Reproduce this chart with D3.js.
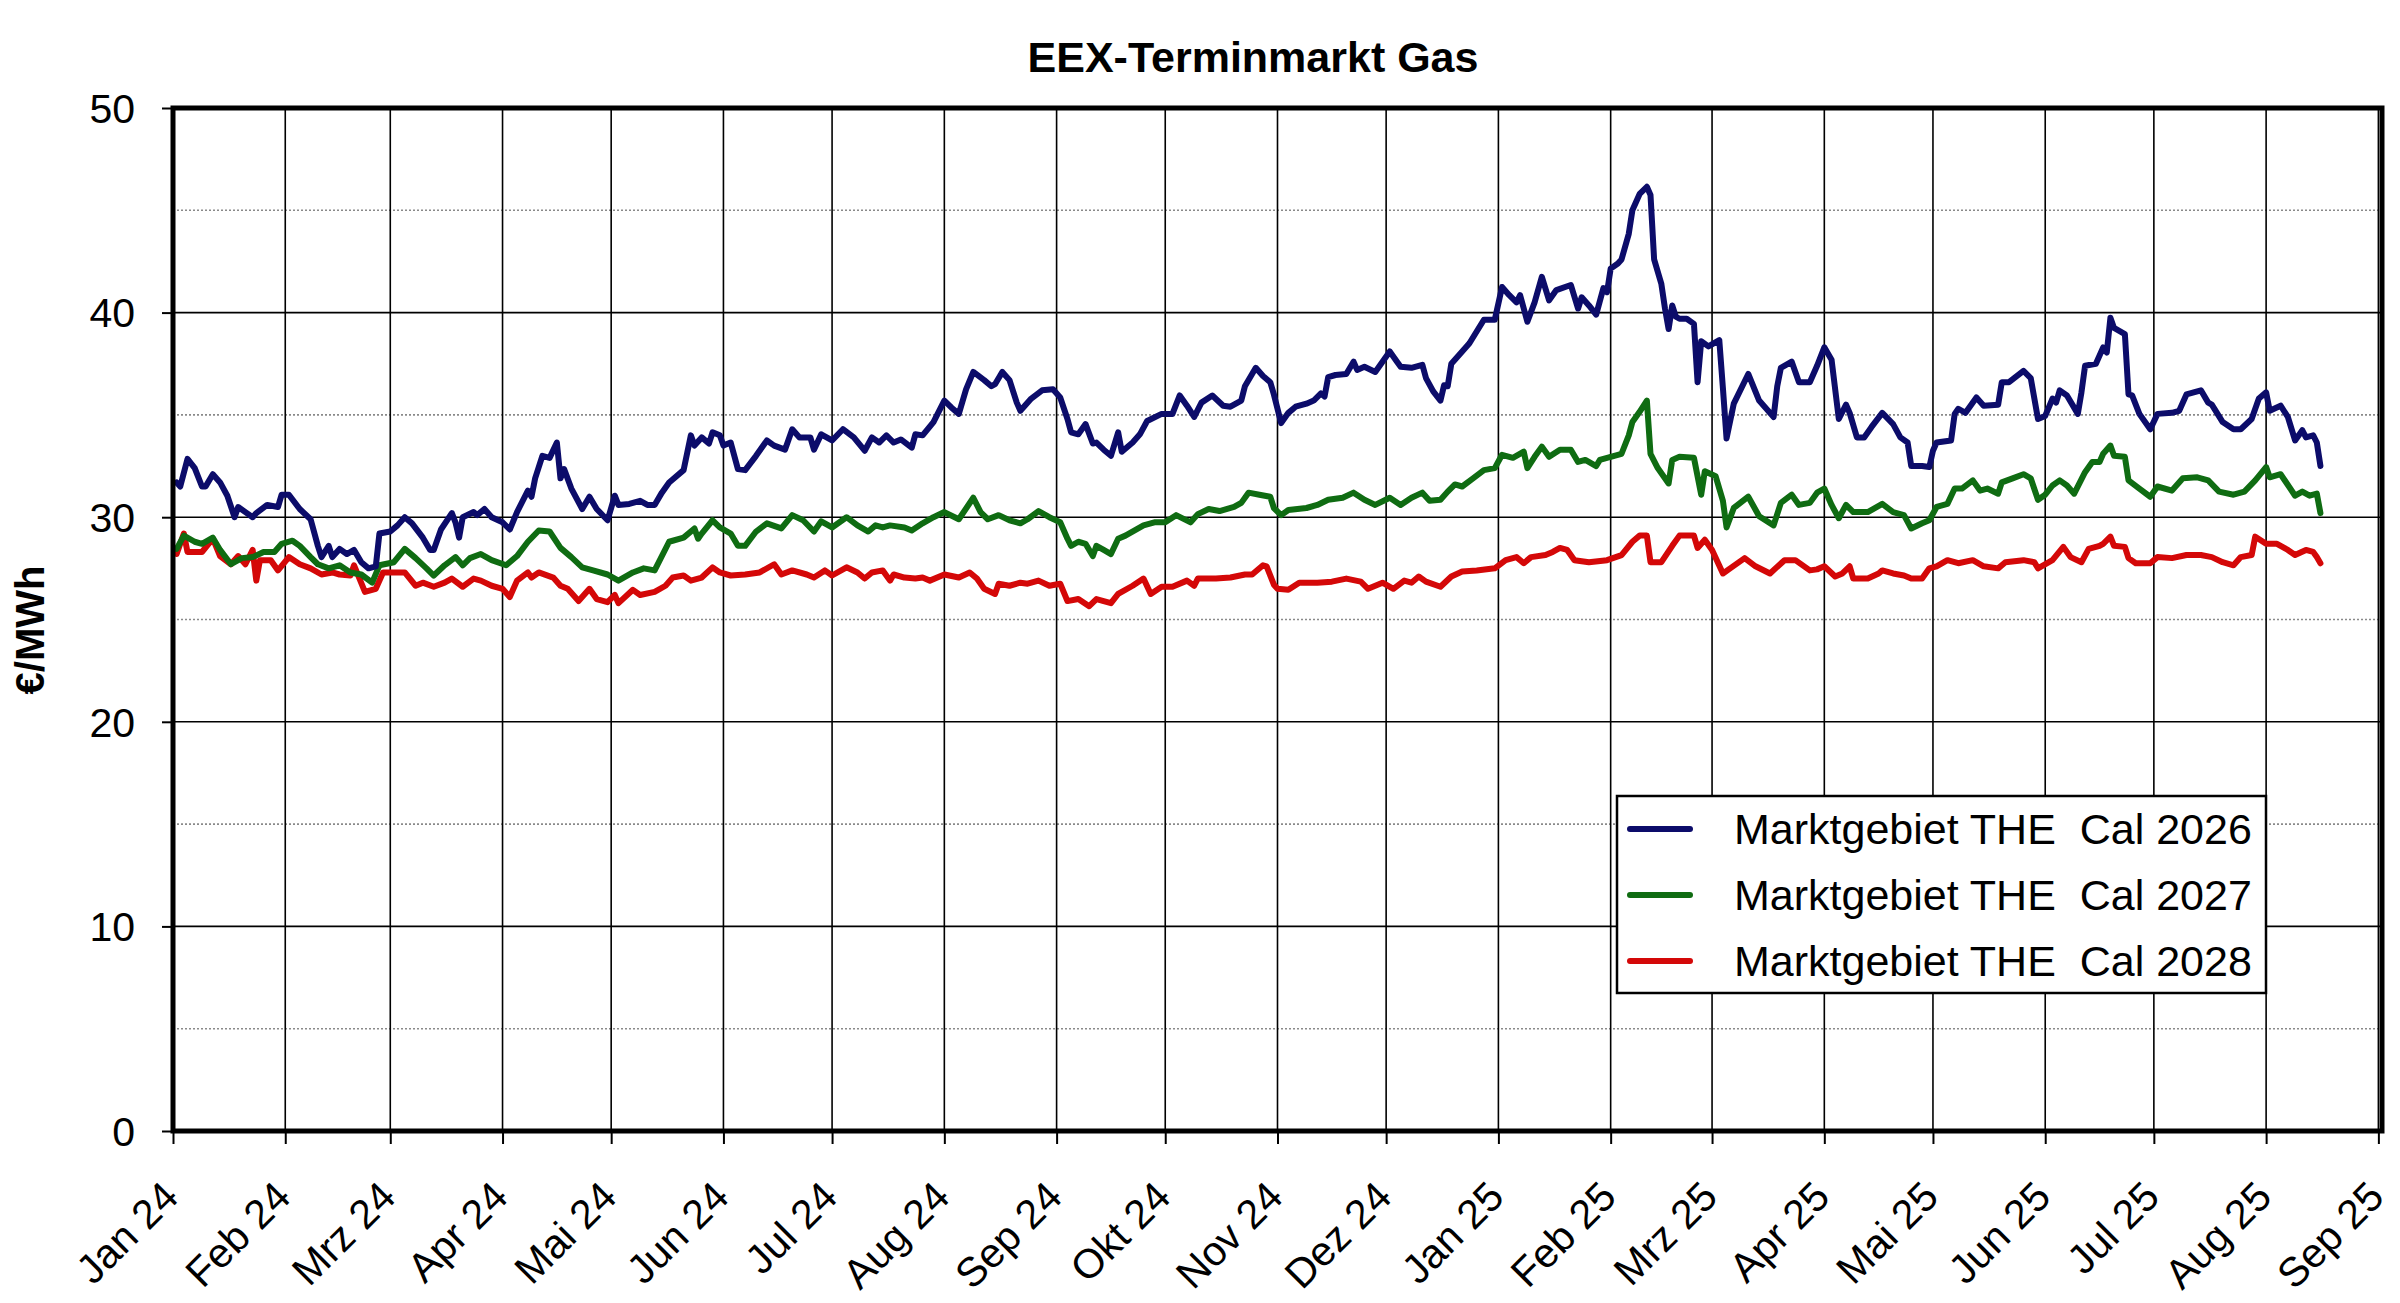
<!DOCTYPE html>
<html>
<head>
<meta charset="utf-8">
<script src="https://cdn.jsdelivr.net/npm/d3@7/dist/d3.min.js"></script>
<style>
  html, body { margin: 0; padding: 0; background: #ffffff; }
  svg { display: block; }
  text { font-family: "Liberation Sans", Arial, sans-serif; fill: #000; }
</style>
</head>
<body>
<svg id="chart" width="2400" height="1303"></svg>
<script>
// ---------------- DATA ----------------
const chartTitle = "EEX-Terminmarkt Gas";
const yAxisLabel = "€/MWh";
const monthNames = ["Jan","Feb","Mrz","Apr","Mai","Jun","Jul","Aug","Sep","Okt","Nov","Dez"];
const yTicks = [0, 10, 20, 30, 40, 50];
const yMinor = [5, 15, 25, 35, 45];
const xStart = "2024-01-01";
const xEnd = "2025-09-02";
const seriesNames = ["Marktgebiet THE  Cal 2026", "Marktgebiet THE  Cal 2027", "Marktgebiet THE  Cal 2028"];

const cal2026 = [
["2024-01-02",31.7],["2024-01-03",31.5],["2024-01-05",32.85],["2024-01-07",32.4],["2024-01-09",31.5],["2024-01-10",31.5],
["2024-01-12",32.1],["2024-01-14",31.7],["2024-01-16",31.05],["2024-01-18",30.0],["2024-01-19",30.5],["2024-01-21",30.25],
["2024-01-23",30.0],["2024-01-24",30.2],["2024-01-27",30.6],["2024-01-30",30.5],["2024-01-31",31.1],["2024-02-02",31.1],
["2024-02-05",30.4],["2024-02-08",29.9],["2024-02-10",28.6],["2024-02-11",28.05],["2024-02-13",28.6],["2024-02-14",28.05],
["2024-02-16",28.45],["2024-02-18",28.2],["2024-02-20",28.4],["2024-02-22",27.8],["2024-02-24",27.5],["2024-02-26",27.6],
["2024-02-27",29.2],["2024-03-01",29.3],["2024-03-03",29.6],["2024-03-05",30.0],["2024-03-07",29.7],["2024-03-10",29.0],
["2024-03-12",28.4],["2024-03-13",28.4],["2024-03-15",29.4],["2024-03-18",30.2],["2024-03-19",29.75],["2024-03-20",29.0],
["2024-03-21",30.0],["2024-03-24",30.25],["2024-03-25",30.1],["2024-03-27",30.4],["2024-03-29",30.0],["2024-04-01",29.75],
["2024-04-03",29.4],["2024-04-05",30.25],["2024-04-08",31.3],["2024-04-09",31.0],["2024-04-10",31.9],["2024-04-12",33.0],
["2024-04-14",32.9],["2024-04-16",33.65],["2024-04-17",31.9],["2024-04-18",32.35],["2024-04-20",31.4],["2024-04-23",30.4],
["2024-04-25",31.0],["2024-04-27",30.4],["2024-04-30",29.85],["2024-05-02",31.05],["2024-05-03",30.6],["2024-05-06",30.65],
["2024-05-09",30.8],["2024-05-11",30.6],["2024-05-13",30.6],["2024-05-15",31.2],["2024-05-17",31.7],["2024-05-21",32.3],
["2024-05-23",34.0],["2024-05-24",33.5],["2024-05-26",33.9],["2024-05-28",33.6],["2024-05-29",34.15],["2024-05-31",34.0],
["2024-06-01",33.5],["2024-06-03",33.65],["2024-06-05",32.35],["2024-06-07",32.3],["2024-06-10",33.0],["2024-06-13",33.75],
["2024-06-15",33.5],["2024-06-18",33.3],["2024-06-20",34.3],["2024-06-22",33.9],["2024-06-25",33.9],["2024-06-26",33.3],
["2024-06-28",34.05],["2024-07-01",33.75],["2024-07-04",34.3],["2024-07-07",33.9],["2024-07-10",33.25],["2024-07-12",33.9],
["2024-07-14",33.65],["2024-07-16",34.0],["2024-07-18",33.65],["2024-07-20",33.8],["2024-07-23",33.4],["2024-07-24",34.05],
["2024-07-26",34.0],["2024-07-29",34.65],["2024-08-01",35.7],["2024-08-03",35.35],["2024-08-05",35.05],["2024-08-07",36.25],
["2024-08-09",37.1],["2024-08-12",36.7],["2024-08-14",36.4],["2024-08-15",36.5],["2024-08-17",37.1],["2024-08-19",36.7],
["2024-08-21",35.6],["2024-08-22",35.2],["2024-08-25",35.8],["2024-08-28",36.2],["2024-08-31",36.25],["2024-09-02",35.85],
["2024-09-04",34.8],["2024-09-05",34.15],["2024-09-07",34.05],["2024-09-09",34.55],["2024-09-11",33.6],["2024-09-12",33.65],
["2024-09-14",33.3],["2024-09-16",33.0],["2024-09-18",34.15],["2024-09-19",33.2],["2024-09-22",33.65],["2024-09-24",34.05],
["2024-09-26",34.7],["2024-09-30",35.05],["2024-10-03",35.05],["2024-10-05",35.95],["2024-10-07",35.45],["2024-10-09",34.9],
["2024-10-11",35.6],["2024-10-14",35.95],["2024-10-17",35.45],["2024-10-19",35.4],["2024-10-22",35.7],["2024-10-23",36.4],
["2024-10-26",37.3],["2024-10-28",36.9],["2024-10-30",36.6],["2024-10-31",36.0],["2024-11-02",34.6],["2024-11-04",35.1],
["2024-11-06",35.4],["2024-11-09",35.55],["2024-11-11",35.7],["2024-11-13",36.05],["2024-11-14",35.9],["2024-11-15",36.85],
["2024-11-17",36.95],["2024-11-20",37.0],["2024-11-22",37.6],["2024-11-23",37.2],["2024-11-25",37.35],["2024-11-28",37.1],
["2024-11-30",37.6],["2024-12-02",38.1],["2024-12-04",37.6],["2024-12-05",37.35],["2024-12-08",37.3],["2024-12-11",37.45],
["2024-12-12",36.8],["2024-12-14",36.15],["2024-12-16",35.7],["2024-12-17",36.45],["2024-12-18",36.4],["2024-12-19",37.5],
["2024-12-22",38.1],["2024-12-24",38.5],["2024-12-28",39.65],["2024-12-31",39.65],["2025-01-02",41.25],["2025-01-04",40.85],
["2025-01-06",40.5],["2025-01-07",40.85],["2025-01-09",39.55],["2025-01-11",40.5],["2025-01-13",41.75],["2025-01-15",40.6],
["2025-01-17",41.1],["2025-01-21",41.35],["2025-01-23",40.2],["2025-01-24",40.75],["2025-01-26",40.35],["2025-01-28",39.9],
["2025-01-30",41.2],["2025-01-31",41.0],["2025-02-01",42.15],["2025-02-03",42.4],["2025-02-04",42.6],["2025-02-06",43.85],
["2025-02-07",45.0],["2025-02-09",45.8],["2025-02-11",46.15],["2025-02-12",45.75],["2025-02-13",42.6],["2025-02-15",41.4],
["2025-02-16",40.2],["2025-02-17",39.2],["2025-02-18",40.35],["2025-02-19",39.8],["2025-02-20",39.7],["2025-02-22",39.7],
["2025-02-24",39.45],["2025-02-25",36.6],["2025-02-26",38.6],["2025-02-28",38.35],["2025-03-03",38.65],["2025-03-04",36.3],
["2025-03-05",33.85],["2025-03-07",35.55],["2025-03-11",37.0],["2025-03-14",35.7],["2025-03-18",34.9],["2025-03-19",36.4],
["2025-03-20",37.3],["2025-03-23",37.6],["2025-03-25",36.6],["2025-03-28",36.6],["2025-03-30",37.4],["2025-04-01",38.3],
["2025-04-03",37.7],["2025-04-05",34.8],["2025-04-07",35.5],["2025-04-08",35.1],["2025-04-10",33.9],["2025-04-12",33.9],
["2025-04-14",34.4],["2025-04-17",35.1],["2025-04-20",34.55],["2025-04-22",33.9],["2025-04-24",33.65],["2025-04-25",32.5],
["2025-04-28",32.5],["2025-04-30",32.45],["2025-05-01",33.25],["2025-05-02",33.65],["2025-05-06",33.75],["2025-05-07",35.05],
["2025-05-08",35.3],["2025-05-10",35.1],["2025-05-13",35.85],["2025-05-15",35.45],["2025-05-19",35.5],["2025-05-20",36.6],
["2025-05-22",36.6],["2025-05-26",37.15],["2025-05-28",36.8],["2025-05-30",34.8],["2025-06-01",34.95],["2025-06-03",35.8],
["2025-06-04",35.6],["2025-06-05",36.2],["2025-06-07",35.95],["2025-06-10",35.05],["2025-06-11",36.1],["2025-06-12",37.4],
["2025-06-15",37.5],["2025-06-17",38.3],["2025-06-18",38.05],["2025-06-19",39.75],["2025-06-20",39.25],["2025-06-23",38.95],
["2025-06-24",36.0],["2025-06-25",35.95],["2025-06-27",35.05],["2025-06-30",34.3],["2025-07-02",35.05],["2025-07-06",35.1],
["2025-07-08",35.2],["2025-07-10",36.0],["2025-07-14",36.2],["2025-07-16",35.6],["2025-07-17",35.5],["2025-07-20",34.65],
["2025-07-23",34.3],["2025-07-25",34.3],["2025-07-28",34.8],["2025-07-30",35.8],["2025-08-01",36.1],["2025-08-02",35.2],
["2025-08-05",35.45],["2025-08-07",34.9],["2025-08-09",33.75],["2025-08-11",34.25],["2025-08-12",33.9],["2025-08-14",34.0],
["2025-08-15",33.65],["2025-08-16",32.5]
];

const cal2027 = [
["2024-01-02",28.45],["2024-01-04",29.1],["2024-01-07",28.8],["2024-01-09",28.7],["2024-01-12",29.0],["2024-01-14",28.4],
["2024-01-17",27.7],["2024-01-20",28.0],["2024-01-23",28.05],["2024-01-26",28.3],["2024-01-29",28.3],["2024-01-31",28.7],
["2024-02-03",28.85],["2024-02-05",28.6],["2024-02-08",28.05],["2024-02-10",27.7],["2024-02-13",27.5],["2024-02-16",27.65],
["2024-02-19",27.3],["2024-02-22",27.2],["2024-02-25",26.8],["2024-02-27",27.65],["2024-03-02",27.8],["2024-03-05",28.45],
["2024-03-08",28.0],["2024-03-11",27.5],["2024-03-13",27.15],["2024-03-16",27.65],["2024-03-19",28.05],["2024-03-21",27.65],
["2024-03-23",28.0],["2024-03-26",28.2],["2024-03-29",27.9],["2024-04-02",27.65],["2024-04-05",28.1],["2024-04-08",28.8],
["2024-04-11",29.35],["2024-04-14",29.3],["2024-04-17",28.5],["2024-04-20",28.05],["2024-04-23",27.55],["2024-04-26",27.4],
["2024-04-30",27.2],["2024-05-03",26.9],["2024-05-07",27.3],["2024-05-10",27.5],["2024-05-13",27.4],["2024-05-17",28.8],
["2024-05-21",29.0],["2024-05-24",29.45],["2024-05-25",28.95],["2024-05-26",29.2],["2024-05-29",29.85],["2024-05-31",29.5],
["2024-06-03",29.2],["2024-06-05",28.6],["2024-06-07",28.6],["2024-06-10",29.3],["2024-06-13",29.7],["2024-06-17",29.45],
["2024-06-20",30.1],["2024-06-23",29.85],["2024-06-26",29.3],["2024-06-28",29.8],["2024-07-01",29.5],["2024-07-05",30.0],
["2024-07-08",29.6],["2024-07-11",29.3],["2024-07-13",29.6],["2024-07-15",29.5],["2024-07-17",29.6],["2024-07-21",29.5],
["2024-07-23",29.35],["2024-07-26",29.7],["2024-07-29",30.0],["2024-08-01",30.25],["2024-08-05",29.9],["2024-08-09",30.95],
["2024-08-11",30.25],["2024-08-13",29.9],["2024-08-16",30.1],["2024-08-19",29.85],["2024-08-22",29.7],["2024-08-24",29.9],
["2024-08-27",30.3],["2024-08-30",30.0],["2024-09-02",29.75],["2024-09-04",28.95],["2024-09-05",28.6],["2024-09-07",28.8],
["2024-09-09",28.7],["2024-09-11",28.1],["2024-09-12",28.6],["2024-09-14",28.4],["2024-09-16",28.2],["2024-09-18",28.95],
["2024-09-20",29.1],["2024-09-25",29.6],["2024-09-28",29.75],["2024-10-01",29.75],["2024-10-04",30.1],["2024-10-08",29.75],
["2024-10-10",30.15],["2024-10-13",30.4],["2024-10-16",30.3],["2024-10-20",30.5],["2024-10-22",30.7],["2024-10-24",31.2],
["2024-10-27",31.1],["2024-10-30",31.0],["2024-10-31",30.45],["2024-11-02",30.1],["2024-11-04",30.35],["2024-11-09",30.45],
["2024-11-12",30.6],["2024-11-15",30.85],["2024-11-19",30.95],["2024-11-22",31.2],["2024-11-25",30.85],["2024-11-28",30.6],
["2024-12-02",30.95],["2024-12-05",30.6],["2024-12-08",30.95],["2024-12-11",31.2],["2024-12-13",30.8],["2024-12-16",30.85],
["2024-12-18",31.25],["2024-12-20",31.6],["2024-12-22",31.5],["2024-12-25",31.9],["2024-12-28",32.3],["2024-12-31",32.4],
["2025-01-02",33.05],["2025-01-05",32.9],["2025-01-08",33.2],["2025-01-09",32.4],["2025-01-11",32.95],["2025-01-13",33.45],
["2025-01-15",32.95],["2025-01-18",33.3],["2025-01-21",33.3],["2025-01-23",32.7],["2025-01-25",32.8],["2025-01-28",32.5],
["2025-01-29",32.8],["2025-01-31",32.9],["2025-02-04",33.1],["2025-02-06",34.0],["2025-02-07",34.65],["2025-02-09",35.15],
["2025-02-11",35.7],["2025-02-12",33.1],["2025-02-14",32.4],["2025-02-17",31.65],["2025-02-18",32.8],["2025-02-20",32.95],
["2025-02-24",32.9],["2025-02-26",31.1],["2025-02-27",32.25],["2025-03-02",32.0],["2025-03-04",30.8],["2025-03-05",29.5],
["2025-03-07",30.45],["2025-03-11",31.0],["2025-03-14",30.05],["2025-03-18",29.6],["2025-03-20",30.7],["2025-03-23",31.1],
["2025-03-25",30.6],["2025-03-28",30.7],["2025-03-30",31.2],["2025-04-01",31.4],["2025-04-03",30.6],["2025-04-05",29.95],
["2025-04-07",30.6],["2025-04-09",30.25],["2025-04-13",30.25],["2025-04-17",30.65],["2025-04-20",30.25],["2025-04-23",30.1],
["2025-04-25",29.45],["2025-04-28",29.7],["2025-04-30",29.85],["2025-05-02",30.5],["2025-05-05",30.65],["2025-05-07",31.4],
["2025-05-09",31.4],["2025-05-12",31.8],["2025-05-14",31.3],["2025-05-16",31.4],["2025-05-19",31.15],["2025-05-20",31.7],
["2025-05-23",31.9],["2025-05-26",32.1],["2025-05-28",31.9],["2025-05-30",30.85],["2025-06-01",31.1],["2025-06-03",31.55],
["2025-06-05",31.8],["2025-06-07",31.55],["2025-06-09",31.15],["2025-06-12",32.2],["2025-06-14",32.7],["2025-06-16",32.7],
["2025-06-17",33.1],["2025-06-19",33.5],["2025-06-20",33.0],["2025-06-23",32.95],["2025-06-24",31.8],["2025-06-27",31.4],
["2025-06-30",31.0],["2025-07-02",31.5],["2025-07-06",31.3],["2025-07-09",31.9],["2025-07-13",31.95],["2025-07-16",31.8],
["2025-07-19",31.25],["2025-07-23",31.1],["2025-07-26",31.25],["2025-07-29",31.8],["2025-08-01",32.45],["2025-08-02",31.95],
["2025-08-05",32.1],["2025-08-09",31.05],["2025-08-11",31.25],["2025-08-13",31.05],["2025-08-15",31.15],["2025-08-16",30.2]
];

const cal2028 = [
["2024-01-02",28.2],["2024-01-04",29.2],["2024-01-05",28.3],["2024-01-09",28.3],["2024-01-12",28.95],["2024-01-14",28.1],
["2024-01-17",27.7],["2024-01-19",28.1],["2024-01-21",27.7],["2024-01-23",28.4],["2024-01-24",26.9],["2024-01-25",27.9],
["2024-01-28",27.9],["2024-01-30",27.4],["2024-02-02",28.05],["2024-02-05",27.7],["2024-02-08",27.5],["2024-02-11",27.2],
["2024-02-14",27.3],["2024-02-16",27.2],["2024-02-19",27.15],["2024-02-20",27.65],["2024-02-23",26.35],["2024-02-26",26.5],
["2024-02-28",27.3],["2024-03-02",27.3],["2024-03-05",27.3],["2024-03-08",26.65],["2024-03-10",26.8],["2024-03-13",26.6],
["2024-03-16",26.8],["2024-03-18",27.0],["2024-03-21",26.6],["2024-03-24",27.0],["2024-03-26",26.9],["2024-03-29",26.65],
["2024-04-01",26.5],["2024-04-03",26.1],["2024-04-05",26.9],["2024-04-08",27.3],["2024-04-09",27.05],["2024-04-11",27.3],
["2024-04-15",27.05],["2024-04-17",26.65],["2024-04-19",26.5],["2024-04-22",25.9],["2024-04-25",26.5],["2024-04-27",26.0],
["2024-04-30",25.85],["2024-05-02",26.2],["2024-05-03",25.8],["2024-05-07",26.45],["2024-05-09",26.2],["2024-05-13",26.35],
["2024-05-16",26.65],["2024-05-18",27.05],["2024-05-21",27.15],["2024-05-23",26.9],["2024-05-26",27.05],["2024-05-29",27.55],
["2024-05-31",27.3],["2024-06-03",27.15],["2024-06-07",27.2],["2024-06-11",27.3],["2024-06-15",27.7],["2024-06-17",27.2],
["2024-06-20",27.4],["2024-06-24",27.2],["2024-06-26",27.05],["2024-06-29",27.4],["2024-07-01",27.15],["2024-07-05",27.55],
["2024-07-08",27.3],["2024-07-10",27.0],["2024-07-12",27.3],["2024-07-15",27.4],["2024-07-17",26.9],["2024-07-18",27.2],
["2024-07-21",27.05],["2024-07-24",27.0],["2024-07-26",27.05],["2024-07-28",26.9],["2024-08-01",27.2],["2024-08-05",27.05],
["2024-08-08",27.3],["2024-08-10",27.0],["2024-08-12",26.5],["2024-08-15",26.25],["2024-08-16",26.75],["2024-08-19",26.65],
["2024-08-22",26.8],["2024-08-24",26.75],["2024-08-27",26.9],["2024-08-30",26.65],["2024-09-02",26.75],["2024-09-04",25.9],
["2024-09-07",26.0],["2024-09-10",25.65],["2024-09-12",26.0],["2024-09-14",25.9],["2024-09-16",25.8],["2024-09-18",26.25],
["2024-09-22",26.65],["2024-09-25",27.0],["2024-09-27",26.25],["2024-09-30",26.6],["2024-10-03",26.6],["2024-10-07",26.9],
["2024-10-09",26.65],["2024-10-10",27.0],["2024-10-15",27.0],["2024-10-19",27.05],["2024-10-23",27.2],["2024-10-25",27.2],
["2024-10-28",27.65],["2024-10-29",27.6],["2024-10-31",26.7],["2024-11-01",26.5],["2024-11-04",26.45],["2024-11-07",26.8],
["2024-11-12",26.8],["2024-11-16",26.85],["2024-11-20",27.0],["2024-11-24",26.85],["2024-11-26",26.5],["2024-11-30",26.8],
["2024-12-03",26.5],["2024-12-06",26.9],["2024-12-08",26.8],["2024-12-10",27.1],["2024-12-12",26.85],["2024-12-16",26.6],
["2024-12-19",27.1],["2024-12-22",27.35],["2024-12-26",27.4],["2024-12-31",27.5],["2025-01-03",27.9],["2025-01-06",28.05],
["2025-01-08",27.75],["2025-01-10",28.05],["2025-01-14",28.15],["2025-01-16",28.3],["2025-01-18",28.5],["2025-01-20",28.4],
["2025-01-22",27.9],["2025-01-26",27.8],["2025-01-31",27.9],["2025-02-04",28.15],["2025-02-07",28.8],["2025-02-09",29.1],
["2025-02-11",29.1],["2025-02-12",27.8],["2025-02-15",27.8],["2025-02-18",28.6],["2025-02-20",29.1],["2025-02-24",29.1],
["2025-02-25",28.5],["2025-02-27",28.9],["2025-03-01",28.4],["2025-03-04",27.25],["2025-03-06",27.5],["2025-03-10",28.0],
["2025-03-13",27.6],["2025-03-17",27.25],["2025-03-21",27.9],["2025-03-24",27.9],["2025-03-28",27.4],["2025-03-30",27.45],
["2025-04-01",27.6],["2025-04-04",27.1],["2025-04-06",27.25],["2025-04-08",27.6],["2025-04-09",27.0],["2025-04-13",27.0],
["2025-04-16",27.25],["2025-04-17",27.4],["2025-04-20",27.25],["2025-04-23",27.15],["2025-04-25",27.0],["2025-04-28",27.0],
["2025-04-30",27.5],["2025-05-02",27.6],["2025-05-05",27.9],["2025-05-08",27.75],["2025-05-12",27.9],["2025-05-15",27.6],
["2025-05-19",27.5],["2025-05-21",27.8],["2025-05-26",27.9],["2025-05-29",27.8],["2025-05-30",27.5],["2025-06-03",27.9],
["2025-06-06",28.55],["2025-06-08",28.05],["2025-06-11",27.8],["2025-06-13",28.45],["2025-06-16",28.6],["2025-06-17",28.7],
["2025-06-19",29.05],["2025-06-20",28.6],["2025-06-23",28.55],["2025-06-24",28.0],["2025-06-26",27.75],["2025-06-30",27.75],
["2025-07-02",28.05],["2025-07-06",28.0],["2025-07-10",28.15],["2025-07-14",28.15],["2025-07-17",28.05],["2025-07-20",27.8],
["2025-07-23",27.65],["2025-07-25",28.05],["2025-07-28",28.15],["2025-07-29",29.05],["2025-08-01",28.7],["2025-08-04",28.7],
["2025-08-07",28.4],["2025-08-09",28.15],["2025-08-12",28.4],["2025-08-14",28.3],["2025-08-15",28.05],["2025-08-16",27.75]
];

const seriesColors = ["#0c0c6a", "#0f6c12", "#d40808"];

// ---------------- CHART ----------------
const parse = d3.utcParse("%Y-%m-%d");
const svg = d3.select("#chart");
const plot = { left: 173, right: 2382, top: 108, bottom: 1131 };

const x = d3.scaleUtc().domain([parse(xStart), parse(xEnd)]).range([plot.left, plot.right]);
const y = d3.scaleLinear().domain([0, 50]).range([plot.bottom, plot.top]);

const months = d3.utcMonth.range(parse(xStart), parse(xEnd));

// minor horizontal grid (dotted)
svg.append("g").selectAll("line").data(yMinor).join("line")
  .attr("x1", plot.left).attr("x2", plot.right)
  .attr("y1", d => y(d)).attr("y2", d => y(d))
  .attr("stroke", "#8a8a8a").attr("stroke-width", 1.6).attr("stroke-dasharray", "2,2");

// major horizontal grid
svg.append("g").selectAll("line").data(yTicks.filter(v => v > 0 && v < 50)).join("line")
  .attr("x1", plot.left).attr("x2", plot.right)
  .attr("y1", d => y(d)).attr("y2", d => y(d))
  .attr("stroke", "#000").attr("stroke-width", 1.6);

// vertical month grid
svg.append("g").selectAll("line").data(months).join("line")
  .attr("x1", d => x(d)).attr("x2", d => x(d))
  .attr("y1", plot.top).attr("y2", plot.bottom)
  .attr("stroke", "#000").attr("stroke-width", 1.6);

// series lines
const line = d3.line().x(d => x(parse(d[0]))).y(d => y(d[1]));
const allSeries = [cal2026, cal2027, cal2028];
[2, 1, 0].forEach(i => {
  svg.append("path").datum(allSeries[i])
    .attr("d", line)
    .attr("fill", "none")
    .attr("stroke", seriesColors[i])
    .attr("stroke-width", 6)
    .attr("stroke-linejoin", "round")
    .attr("stroke-linecap", "round");
});

// frame
svg.append("rect")
  .attr("x", plot.left).attr("y", plot.top)
  .attr("width", plot.right - plot.left).attr("height", plot.bottom - plot.top)
  .attr("fill", "none").attr("stroke", "#000").attr("stroke-width", 5);

// y axis
const yAxis = svg.append("g").attr("transform", `translate(${plot.left},0)`)
  .call(d3.axisLeft(y).tickValues(yTicks).tickSize(11).tickPadding(27).tickFormat(d3.format("d")));
yAxis.select(".domain").remove();
yAxis.selectAll(".tick line").attr("stroke", "#000").attr("stroke-width", 2);
yAxis.selectAll(".tick text")
  .style("font-family", '"Liberation Sans", Arial, sans-serif')
  .style("font-size", "41px").attr("fill", "#000").attr("dy", "0.35em");

// x axis
const xAxis = svg.append("g").attr("transform", `translate(0,${plot.bottom})`)
  .call(d3.axisBottom(x).tickValues(d3.utcMonth.range(parse(xStart), d3.utcDay.offset(parse(xEnd), 1)))
    .tickSize(13)
    .tickFormat(d => monthNames[d.getUTCMonth()] + " " + String(d.getUTCFullYear()).slice(2)));
xAxis.select(".domain").remove();
xAxis.selectAll(".tick line").attr("stroke", "#000").attr("stroke-width", 2);
xAxis.selectAll(".tick text")
  .style("font-family", '"Liberation Sans", Arial, sans-serif')
  .style("font-size", "41px").attr("fill", "#000")
  .attr("x", 0).attr("y", 0).attr("dy", "0.35em")
  .attr("transform", "translate(-3,58) rotate(-45)")
  .style("text-anchor", "end");

// title
svg.append("text")
  .attr("x", 1253).attr("y", 72)
  .attr("text-anchor", "middle")
  .style("font-size", "43px").style("font-weight", "bold")
  .text(chartTitle);

// y axis label
svg.append("text")
  .attr("transform", "translate(44,630) rotate(-90)")
  .attr("text-anchor", "middle")
  .style("font-size", "40px").style("font-weight", "bold")
  .text(yAxisLabel);

// legend
const lg = svg.append("g");
lg.append("rect")
  .attr("x", 1617).attr("y", 796).attr("width", 649).attr("height", 197)
  .attr("fill", "#fff").attr("stroke", "#000").attr("stroke-width", 2.5);
const rowY = d3.scalePoint().domain(seriesNames).range([829, 961]);
seriesNames.forEach((name, i) => {
  lg.append("line")
    .attr("x1", 1630).attr("x2", 1690)
    .attr("y1", rowY(name)).attr("y2", rowY(name))
    .attr("stroke", seriesColors[i]).attr("stroke-width", 6).attr("stroke-linecap", "round");
  lg.append("text")
    .attr("x", 1734).attr("y", rowY(name)).attr("dy", "0.35em")
    .style("font-size", "43px")
    .style("white-space", "pre")
    .attr("xml:space", "preserve")
    .text(name);
});
</script>
</body>
</html>
